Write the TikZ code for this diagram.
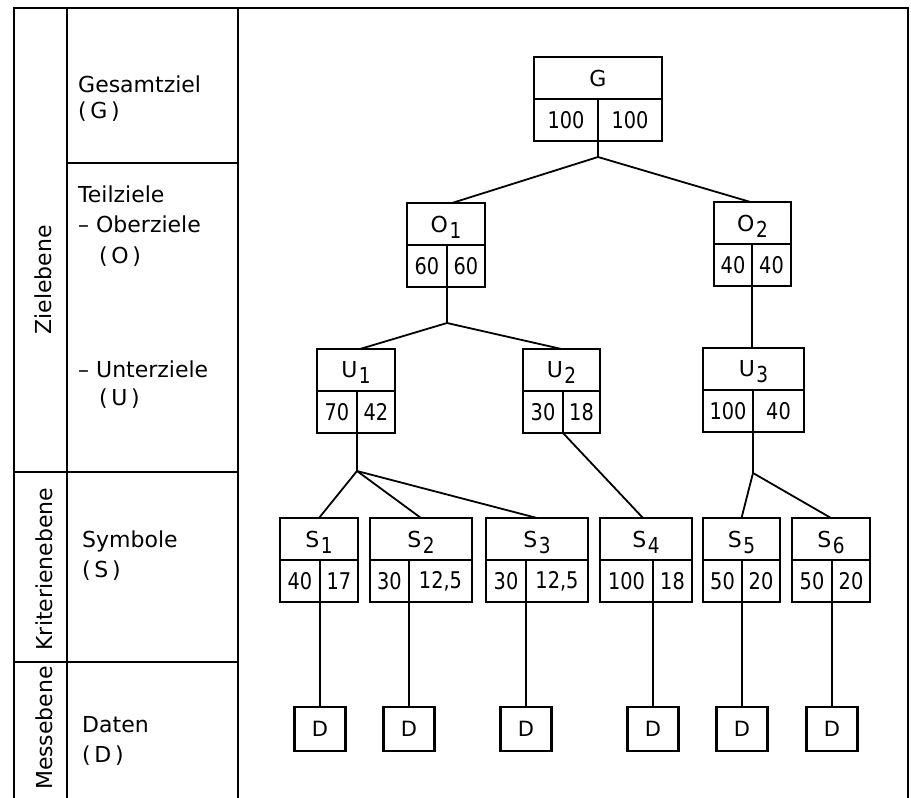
\documentclass[tikz,border=0pt]{standalone}
\usepackage{fontspec}
\setmainfont{DejaVu Sans}
\newfontfamily\numfont[FakeStretch=0.84]{DejaVu Sans}
\newcommand\lowidx[1]{\kern1.5pt\raisebox{-6pt}[0pt][0pt]{\numfont\fontsize{22}{24}\selectfont #1}}
\newcommand\tribox[8]{%
  \pgfmathsetmacro\wAll{#4-#2}%
  \pgfmathsetmacro\wL{#3-#2}%
  \pgfmathsetmacro\wR{#4-#3}%
  \node[cell, hd, minimum width=\wAll pt] (#1) at (#2,#5) {#6};
  \node[cell, num, minimum width=\wL pt] (#1-l) at (#2,#5+42) {#7};
  \node[cell, num, minimum width=\wR pt] (#1-r) at (#3,#5+42) {#8};
}
\begin{document}
\begin{tikzpicture}[x=1pt,y=-1pt,
  frame/.style={line width=2.4pt},
  cell/.style={draw, line width=2.1pt, inner sep=0pt, outer sep=0pt, anchor=north west, minimum height=42pt},
  dbox/.style={draw, line width=2.1pt, inner sep=0pt, outer sep=0pt, minimum width=51pt, minimum height=44pt, font=\fontsize{21}{24}\selectfont},
  link/.style={line width=1.8pt},
  lbl/.style={anchor=base west, inner sep=0pt, font=\fontsize{22}{26}\selectfont},
  side/.style={anchor=base, rotate=90, inner sep=0pt, font=\fontsize{22}{26}\selectfont},
  hd/.style={font=\fontsize{22}{26}\selectfont},
  num/.style={font=\numfont\fontsize{23}{26}\selectfont}]
\useasboundingbox (0,0) rectangle (911,798);

% frame
\draw[frame] (14,798) -- (14,8) -- (908,8) -- (908,798);
\draw[frame] (67,8) -- (67,798);
\draw[frame] (238,8) -- (238,798);
\draw[frame] (67,163) -- (238,163);
\draw[frame] (14,472) -- (238,472);
\draw[frame] (14,662) -- (238,662);

% side labels
\node[side] (zl) at (51,280) {Zielebene};
\node[side] (kl) at (52,569) {Kriterienebene};
\node[side] (ml) at (52,728) {Messebene};

% level labels
\node[lbl] (t1) at (78,92) {Gesamtziel};
\node[lbl] (t2) at (78,118) {(\,G\,)};
\node[lbl] (t3) at (78,202) {Teilziele};
\node[lbl] (t4) at (78,232) {– Oberziele};
\node[lbl] (t5) at (99,263) {(\,O\,)};
\node[lbl] (t6) at (78,377) {– Unterziele};
\node[lbl] (t7) at (99,405) {(\,U\,)};
\node[lbl] (t8) at (82,547) {Symbole};
\node[lbl] (t9) at (82,577) {(\,S\,)};
\node[lbl] (t10) at (82,732) {Daten};
\node[lbl] (t11) at (82,762) {(\,D\,)};

% tree boxes
\tribox{G}{534}{598}{662}{57}{G}{100}{100}
\tribox{O1}{407}{447}{485}{203}{O\lowidx{1}}{60}{60}
\tribox{O2}{714}{752}{791}{202}{O\lowidx{2}}{40}{40}
\tribox{U1}{317}{357}{395}{349}{U\lowidx{1}}{70}{42}
\tribox{U2}{523}{563}{600}{349}{U\lowidx{2}}{30}{18}
\tribox{U3}{703}{753}{804}{348}{U\lowidx{3}}{100}{40}
\tribox{S1}{280}{320}{358}{518}{S\lowidx{1}}{40}{17}
\tribox{S2}{370}{409}{472}{518}{S\lowidx{2}}{30}{12,5}
\tribox{S3}{486}{526}{588}{518}{S\lowidx{3}}{30}{12,5}
\tribox{S4}{600}{653}{692}{518}{S\lowidx{4}}{100}{18}
\tribox{S5}{703}{742}{780}{518}{S\lowidx{5}}{50}{20}
\tribox{S6}{792}{832}{870}{518}{S\lowidx{6}}{50}{20}

% data boxes
\node[dbox] (D1) at (320,729) {D};
\node[dbox] (D2) at (409,729) {D};
\node[dbox] (D3) at (526,729) {D};
\node[dbox] (D4) at (653,729) {D};
\node[dbox] (D5) at (742,729) {D};
\node[dbox] (D6) at (832,729) {D};

% connectors
\coordinate (j0) at (598,157);
\coordinate (j1) at (447,323);
\coordinate (j2) at (357,471);
\coordinate (j3) at (753,473);
\draw[link] (G-l.south east) -- (j0) -- ([xshift=6pt]O1.north);
\draw[link] (j0) -- ([xshift=-2pt]O2.north);
\draw[link] (O1-l.south east) -- (j1) -- ([xshift=4pt]U1.north);
\draw[link] (j1) -- (U2.north);
\draw[link] (O2-l.south east) -- (O2-l.south east |- U3.north);
\draw[link] (U1-l.south east) -- (j2) -- (S1.north);
\draw[link] (j2) -- (S2.north);
\draw[link] (j2) -- (S3.north);
\draw[link] (U2-l.south east) -- ([xshift=-3pt]S4.north);
\draw[link] (U3-l.south east) -- (j3) -- (S5.north);
\draw[link] (j3) -- (S6.north);
\draw[link] (S1-l.south east) -- (D1.north);
\draw[link] (S2-l.south east) -- (D2.north);
\draw[link] (S3-l.south east) -- (D3.north);
\draw[link] (S4-l.south east) -- (D4.north);
\draw[link] (S5-l.south east) -- (D5.north);
\draw[link] (S6-l.south east) -- (D6.north);
\end{tikzpicture}
\end{document}
